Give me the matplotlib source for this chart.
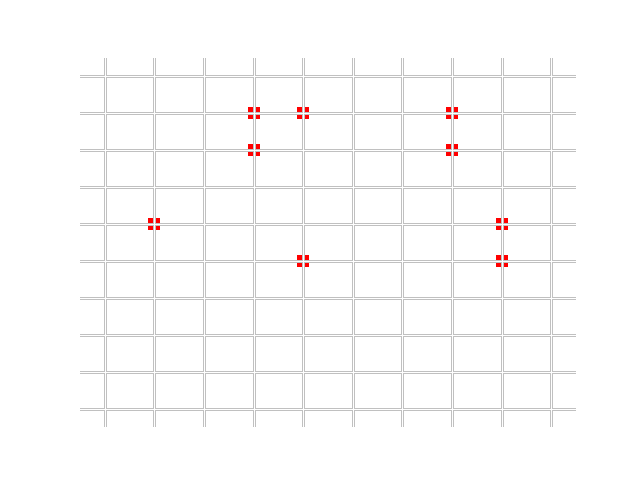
import matplotlib
matplotlib.use('Agg')
import matplotlib.pyplot as plt

xs = [3, 4, 7, 3, 7, 1, 8, 4, 8]
ys = [8, 8, 8, 7, 7, 5, 5, 4, 4]
ticks = list(range(10))

fig, ax = plt.subplots(figsize=(6.4, 4.8), dpi=100)
ax.scatter(xs, ys, marker='s', s=80, color='red', linewidths=0, zorder=1)
ax.set_xlim(-0.5, 9.5)
ax.set_ylim(-0.5, 9.5)
ax.set_xticks(ticks)
ax.set_yticks(ticks)
ax.set_xticklabels([])
ax.set_yticklabels([])
ax.tick_params(length=0)
for s in ax.spines.values():
    s.set_visible(False)

# double grid: 3px gray band with a 1px white centre line
ax.grid(True, color='#c0c0c0', linewidth=2.16, zorder=2)
ax.set_axisbelow(False)
for t in ticks:
    ax.axvline(t, color='white', linewidth=0.72, zorder=3)
    ax.axhline(t, color='white', linewidth=0.72, zorder=3)

plt.savefig('out.png')
